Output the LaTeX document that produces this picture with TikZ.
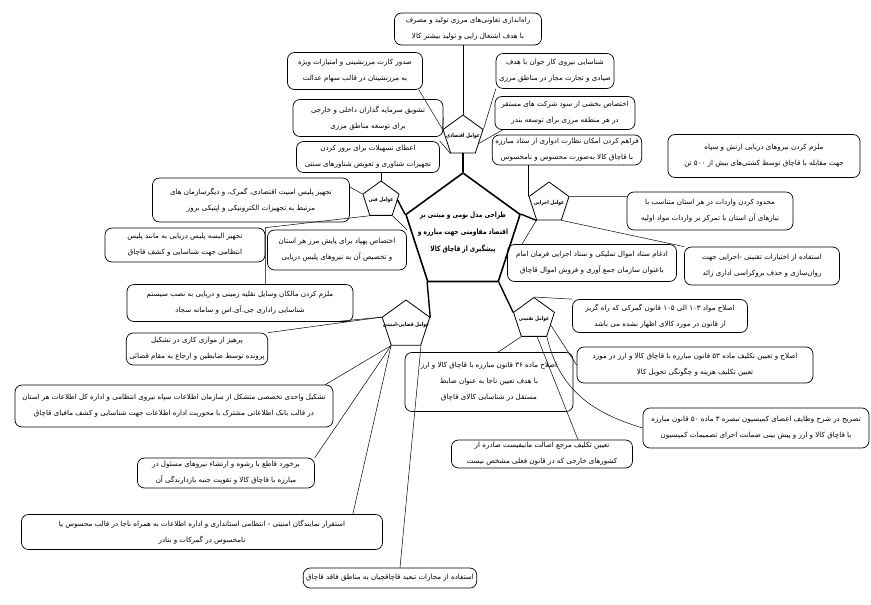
\documentclass[tikz,border=0pt]{standalone}
\usepackage{fontspec}
\usetikzlibrary{shapes.geometric}
\newfontfamily\fa[Script=Arabic]{DejaVu Sans}
\newfontfamily\fanarrow[Script=Arabic,FakeStretch=0.8]{DejaVu Sans}
\TeXXeTstate=1
\newcommand\rline[1]{\beginR#1\endR}
\newcommand\hubline[1]{\makebox[0pt]{\beginR#1\endR}}
\tikzset{
  idea/.style={draw, rounded corners=7pt, align=center, inner xsep=3pt, inner ysep=1pt, line width=0.7pt,
    font=\fa\fontsize{7.1}{16}\selectfont},
  factor/.style={draw, regular polygon, regular polygon sides=5, inner sep=0pt, line width=0.8pt,
    align=center, font=\fanarrow\bfseries\fontsize{5.5}{6}\selectfont},
  spoke/.style={line width=1.4pt},
  link/.style={line width=0.5pt},
}
\begin{document}
\begin{tikzpicture}[x=1pt, y=-1pt, line join=round, line cap=round]
\useasboundingbox (0,0) rectangle (871,605);
% hub
\node[factor, minimum size=120, line width=1.6pt, font=\fanarrow\bfseries\fontsize{7.4}{17}\selectfont] (core) at (463,233)
  {\hubline{طراحی مدل بومی و مبتنی بر}\\\hubline{اقتصاد مقاومتی جهت مبارزه و}\\\hubline{پیشگیری از قاچاق کالا}};
% factors
\node[factor, minimum size=42] (econ) at (463,136) {\hubline{عوامل اقتصادی}};
\node[factor, minimum size=42] (exec) at (549,203) {\hubline{عوامل اجرایی}};
\node[factor, minimum size=38] (tech) at (381,200) {\hubline{عوامل فنی}};
\node[factor, minimum size=50] (judic) at (406,325) {\hubline{عوامل قضایی-امنیتی}};
\node[factor, minimum size=43] (legis) at (534,319) {\hubline{عوامل تقنینی}};
\foreach \c/\f in {1/econ.south, 5/exec.corner 3, 2/tech.east, 3/judic.corner 5, 4/legis.corner 2}
  \draw[spoke] (core.corner \c) -- (\f);

% economic
\node[idea, minimum width=147, minimum height=32] (coop) at (468,29)
  {\rline{راه‌اندازی تعاونی‌های مرزی تولید و مصرف}\\\rline{با هدف اشتغال زایی و تولید بیشتر کالا}};
\node[idea, minimum width=135, minimum height=37] (card) at (355,71)
  {\rline{صدور کارت مرزنشینی و امتیازات ویژه}\\\rline{به مرزنشینان در قالب سهام عدالت}};
\node[idea, minimum width=150, minimum height=37] (invest) at (368,118)
  {\rline{تشویق سرمایه گذاران داخلی و خارجی}\\\rline{برای توسعه مناطق مرزی}};
\node[idea, minimum width=143, minimum height=31] (loans) at (368,157)
  {\rline{اعطای تسهیلات برای بروز کردن}\\\rline{تجهیزات شناوری و تعویض شناورهای سنتی}};
\node[idea, minimum width=115, minimum height=35] (labor) at (555,71)
  {\rline{شناسایی نیروی کار جوان با هدف}\\\rline{صیادی و تجارت مجاز در مناطق مرزی}};
\node[idea, minimum width=140, minimum height=33] (profit) at (565,113)
  {\rline{اختصاص بخشی از سود شرکت های مستقر}\\\rline{در هر منطقه مرزی برای توسعه بندر}};
\draw[link] (econ.corner 1 |- coop.south) -- (econ.corner 1);
\draw[link] ([xshift=-4]card.south east) -- (econ.corner 2);
\draw[link] (invest.east) -- (econ.corner 2);
\draw[link] (loans.north east) -- (econ.corner 3);
\draw[link] (labor.south west) -- (econ.corner 5);
\draw[link] ([xshift=8]profit.south west) -- (econ.-25);

% executive
\node[idea, minimum width=140, minimum height=30] (monitor) at (567,150)
  {\rline{فراهم کردن امکان نظارت ادواری از ستاد مبارزه}\\\rline{با قاچاق کالا به‌صورت محسوس و نامحسوس}};
\node[idea, minimum width=192, minimum height=43] (navy) at (764,156)
  {\rline{ملزم کردن نیروهای دریایی ارتش و سپاه}\\\rline{جهت مقابله با قاچاق توسط کشتی‌های بیش از ۵۰۰ تن}};
\node[idea, minimum width=166, minimum height=38] (imports) at (710,211)
  {\rline{محدود کردن واردات در هر استان متناسب با}\\\rline{نیازهای آن استان با تمرکز بر واردات مواد اولیه}};
\node[idea, minimum width=169, minimum height=37] (merge) at (592,263)
  {\rline{ادغام ستاد اموال تملیکی و ستاد اجرایی فرمان امام}\\\rline{باعنوان سازمان جمع آوری و فروش اموال قاچاق}};
\node[idea, minimum width=155, minimum height=38] (powers) at (762,266)
  {\rline{استفاده از اختیارات تقنینی -اجرایی جهت}\\\rline{روان‌سازی و حذف بروکراسی اداری زائد}};
\draw[link] (exec.corner 2) -- (exec.corner 2 |- monitor.south);
\draw[link] (exec.corner 5) -- (imports.170);
\draw[link] (exec.corner 4) -- (powers.north west);
\draw[link] (exec.corner 3) -- ([xshift=-70]merge.north);

% technical
\node[idea, minimum width=197, minimum height=44] (equip) at (251,200)
  {\rline{تجهیز پلیس امنیت اقتصادی، گمرک، و دیگرسازمان های}\\\rline{مرتبط به تجهیزات الکترونیکی و اپتیکی بروز}};
\node[idea, minimum width=160, minimum height=34] (uniform) at (185,245)
  {\rline{تجهیز البسه پلیس دریایی به مانند پلیس}\\\rline{انتظامی جهت شناسایی و کشف قاچاق}};
\node[idea, minimum width=139, minimum height=40] (drone) at (337,250)
  {\rline{اختصاص پهپاد برای پایش مرز هر استان}\\\rline{و تخصیص آن به نیروهای پلیس دریایی}};
\node[idea, minimum width=226, minimum height=37] (gps) at (240,303)
  {\rline{ملزم کردن مالکان وسایل نقلیه زمینی و دریایی به نصب سیستم}\\\rline{شناسایی راداری جی.آی.اس و سامانه سجاد}};
\draw[link] (tech.corner 1) -- (tech.corner 1 |- loans.south);
\draw[link] (tech.corner 2) -- ([yshift=13]equip.east);
\draw[link] (tech.corner 3) -- (uniform.north east) -- (uniform.north east |- gps.north);
\draw[link] (tech.corner 4) -- (drone.north east);

% judicial and security
\node[idea, minimum width=105, minimum height=32] (parallel) at (197,349)
  {\rline{پرهیز از موازی کاری در تشکیل}\\\rline{پرونده توسط ضابطین و ارجاع به مقام قضائی}};
\node[idea, minimum width=318, minimum height=42] (intel) at (174,406)
  {\rline{تشکیل واحدی تخصصی متشکل از سازمان اطلاعات سپاه نیروی انتظامی و اداره کل اطلاعات هر استان}\\\rline{در قالب بانک اطلاعاتی مشترک با محوریت اداره اطلاعات جهت شناسایی و کشف مافیای قاچاق}};
\node[idea, minimum width=177, minimum height=30] (bribe) at (226,473)
  {\rline{برخورد قاطع با رشوه و ارتشاء نیروهای مسئول در}\\\rline{مبارزه با قاچاق کالا و تقویت جنبه بازدارندگی آن}};
\node[idea, minimum width=361, minimum height=35] (reps) at (202,532)
  {\rline{استقرار نمایندگان امنیتی - انتظامی استانداری و اداره اطلاعات به همراه ناجا در قالب محسوس یا}\\\rline{نامحسوس در گمرکات و بنادر}};
\node[idea, minimum width=156, minimum height=20] (exile) at (390,578)
  {\rline{استفاده از مجازات تبعید قاچاقچیان به مناطق فاقد قاچاق}};
\draw[link] ([xshift=-20]gps.south east) -- (judic.corner 2);
\draw[link] (judic.corner 2) -- (parallel.north east);
\draw[link] (judic.corner 3) -- ([xshift=-8]intel.north east);
\draw[link] (judic.corner 3) -- (bribe.north east);
\draw[link] (judic.corner 3) -- ([xshift=-30]reps.north east);
\draw[link] (judic.corner 4) -- ([xshift=10]exile.north);

% legislative
\node[idea, minimum width=175, minimum height=33] (art103) at (660,316)
  {\rline{اصلاح مواد ۱۰۳ الی ۱۰۵ قانون گمرکی که راه گریز}\\\rline{از قانون در مورد کالای اظهار نشده می باشد}};
\node[idea, minimum width=236, minimum height=36] (art53) at (695,365)
  {\rline{اصلاح و تعیین تکلیف ماده ۵۳ قانون مبارزه با قاچاق کالا و ارز در مورد}\\\rline{تعیین تکلیف هزینه و چگونگی تحویل کالا}};
\node[idea, minimum width=168, minimum height=59] (art36) at (489,382)
  {\rline{اصلاح ماده ۳۶ قانون مبارزه با قاچاق کالا و ارز}\\\rline{با هدف تعیین ناجا به عنوان ضابط}\\\rline{مستقل در شناسایی کالای قاچاق}};
\node[idea, minimum width=226, minimum height=40] (art50) at (756,428)
  {\rline{تصریح در شرح وظایف اعضای کمیسیون تبصره ۳ ماده ۵۰ قانون مبارزه}\\\rline{با قاچاق کالا و ارز و پیش بینی ضمانت اجرای تصمیمات کمیسیون}};
\node[idea, minimum width=181, minimum height=28] (manifest) at (542,454)
  {\rline{تعیین تکلیف مرجع اصالت مانیفیست صادره از}\\\rline{کشورهای خارجی که در قانون فعلی مشخص نیست}};
\draw[link] (legis.corner 1) -- (art103.north west);
\draw[link] (legis.-20) -- (art53.west);
\draw[link] (legis.corner 3) -- ([xshift=9]art36.north);
\draw[link] (legis.corner 4) .. controls (560,395) and (600,415) .. (art50.west);
\draw[link] (legis.-80) -- ([xshift=36]manifest.north);
\end{tikzpicture}
\end{document}
